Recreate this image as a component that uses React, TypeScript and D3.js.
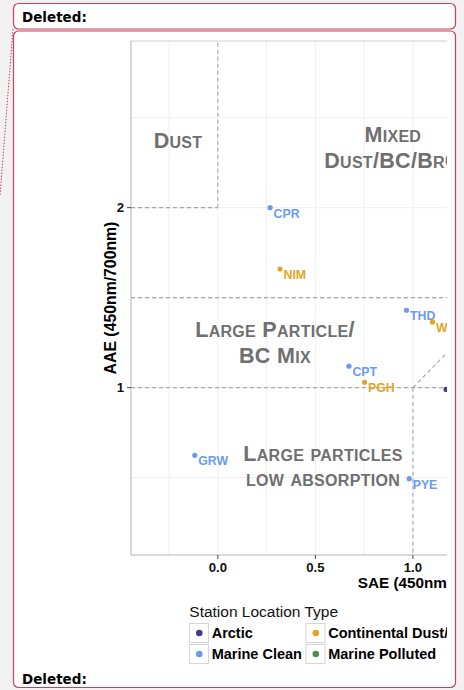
import React from "react";
import * as d3 from "d3";

// ---- data ----
const stations = ["CPR", "NIM", "THD", "WLG", "CPT", "PGH", "BRW", "GRW", "PYE"];
const saeValues = [0.268, 0.319, 0.967, 1.1, 0.672, 0.752, 1.17, -0.118, 0.981];
const aaeValues = [2.0, 1.659, 1.43, 1.365, 1.119, 1.03, 0.99, 0.624, 0.494];
const stationTypes = [
  "Marine Clean", "Continental Dust/Urban", "Marine Clean", "Continental Dust/Urban",
  "Marine Clean", "Continental Dust/Urban", "Arctic", "Marine Clean", "Marine Clean",
];
const legendCategories = ["Arctic", "Continental Dust/Urban", "Marine Clean", "Marine Polluted"];
const categoryColors = ["#433a8c", "#e0a526", "#6a9bef", "#4e8d58"];
const xTicks = [0, 0.5, 1];
const xTickLabels = ["0.0", "0.5", "1.0"];
const yTicks = [1, 2];
const yTickLabels = ["1", "2"];
const xGrid = [-0.25, 0, 0.25, 0.5, 0.75, 1, 1.25, 1.5];
const yGrid = [0.5, 1, 1.5, 2, 2.5];
// reference segments [x1, y1, x2, y2] in data units (null = panel edge)
const refSegments: (number | null)[][] = [
  [0, 2, 0, null],
  [null, 2, 0, 2],
  [null, 1.5, null, 1.5],
  [null, 1, null, 1],
  [1, 1, 1, null],
  [1, 1, 1.5, 1.555],
];
const regionLines = ["Dust", "Mixed", "Dust/BC/BrC", "Large Particle/", "BC Mix", "Large particles", "low absorption"];
const regionX = [-0.204, 0.897, 0.895, 0.293, 0.293, 0.539, 0.539];
const regionY = [2.33, 2.363, 2.222, 1.279, 1.139, 0.592, 0.455];

const W = 464, H = 690;
const xScale = d3.scaleLinear().domain([-0.445, 1.6]).range([131, 530]);
const yScale = d3.scaleLinear().domain([0.07, 2.926]).range([555, 41]);
const color = d3.scaleOrdinal<string, string>().domain(legendCategories).range(categoryColors);

const FONT = "'Liberation Sans', Arial, sans-serif";
const CLIP_R = 447;

function smallCaps(text: string, big: number, small: number) {
  const parts: { s: string; size: number }[] = [];
  for (const ch of text) {
    const isLower = ch !== ch.toUpperCase();
    const size = isLower ? small : big;
    const c = ch.toUpperCase();
    if (parts.length && parts[parts.length - 1].size === size) parts[parts.length - 1].s += c;
    else parts.push({ s: c, size });
  }
  return parts.map((p, i) => (
    <tspan key={i} fontSize={p.size}>{p.s}</tspan>
  ));
}

export default function App() {
  const [x0, x1] = xScale.domain();
  const [y0, y1] = yScale.domain();
  const panelL = xScale(x0), panelR = xScale(x1), panelT = yScale(y1), panelB = yScale(y0);
  const crimson = "#cc3f5e";

  return (
    <svg width={W} height={H} style={{ position: "absolute", left: 0, top: 0 }} fontFamily={FONT}>
      <defs>
        <clipPath id="chartClip">
          <rect x={0} y={0} width={CLIP_R} height={H} />
        </clipPath>
      </defs>
      <rect x={0} y={0} width={W} height={H} fill="#f1f1f1" />
      {/* balloons */}
      <rect x={13.5} y={3.5} width={442} height={25.5} rx={5} fill="#fff" stroke={crimson} strokeWidth={1.2} />
      <text x={22} y={21.5} fontFamily="'DejaVu Sans', Verdana, sans-serif" fontWeight="bold" fontSize={13.5} fill="#000">Deleted:</text>
      <rect x={13.5} y={31} width={442} height={656.5} rx={5} fill="#fff" stroke={crimson} strokeWidth={1.2} />
      <text x={22} y={684} fontFamily="'DejaVu Sans', Verdana, sans-serif" fontWeight="bold" fontSize={13.5} fill="#000">Deleted:</text>
      <line x1={13} y1={29} x2={0} y2={196} stroke={crimson} strokeWidth={1} strokeDasharray="1.5,1.5" />

      <g clipPath="url(#chartClip)">
        {/* panel */}
        <rect x={panelL} y={panelT} width={panelR - panelL} height={panelB - panelT} fill="#fff" />
        {xGrid.map((g, i) => (
          <line key={"gx" + i} x1={xScale(g)} x2={xScale(g)} y1={panelT} y2={panelB} stroke="#efefef" strokeWidth={1} />
        ))}
        {yGrid.map((g, i) => (
          <line key={"gy" + i} x1={panelL} x2={panelR} y1={yScale(g)} y2={yScale(g)} stroke="#efefef" strokeWidth={1} />
        ))}
        <line x1={panelL} x2={panelR} y1={panelT} y2={panelT} stroke="#d0d0d0" strokeWidth={1} />
        <line x1={panelL} x2={panelL} y1={panelT} y2={panelB} stroke="#b3b3b3" strokeWidth={1} />
        <line x1={panelL} x2={panelR} y1={panelB} y2={panelB} stroke="#b3b3b3" strokeWidth={1} />

        {/* reference lines */}
        {refSegments.map((s, i) => {
          const ax = s[0] === null ? panelL : xScale(s[0]);
          const ay = s[1] === null ? panelT : yScale(s[1]);
          const bx = s[2] === null ? panelR : xScale(s[2]);
          const by = s[3] === null ? (s[1] !== null && s[0] !== null && s[0] === s[2] && (s[1] as number) < 2 ? panelB : panelT) : yScale(s[3]);
          return <line key={"r" + i} x1={ax} y1={ay} x2={bx} y2={by} stroke="#a8a8a8" strokeWidth={1.1} strokeDasharray="4,3" />;
        })}

        {/* region labels */}
        {regionLines.map((t, i) => (
          <text key={"rl" + i} x={xScale(regionX[i])} y={yScale(regionY[i])} textAnchor="middle" fontWeight="bold" fill="#6f6f6f" letterSpacing={0.3}>
            {smallCaps(t, 21.5, 16)}
          </text>
        ))}

        {/* points */}
        {stations.map((s, i) => (
          <g key={s}>
            <circle cx={xScale(saeValues[i])} cy={yScale(aaeValues[i])} r={2.6} fill={color(stationTypes[i])} />
            <text x={xScale(saeValues[i]) + 3.5} y={yScale(aaeValues[i]) + 10} fontSize={12.3} fontWeight="bold" fill={color(stationTypes[i])}>{s}</text>
          </g>
        ))}

        {/* ticks */}
        {xTicks.map((t, i) => (
          <g key={"xt" + i}>
            <line x1={xScale(t)} x2={xScale(t)} y1={panelB} y2={panelB + 4} stroke="#444" />
            <text x={xScale(t)} y={571.7} textAnchor="middle" fontWeight="bold" fontSize={13.2} fill="#111">{xTickLabels[i]}</text>
          </g>
        ))}
        {yTicks.map((t, i) => (
          <g key={"yt" + i}>
            <line x1={panelL - 4} x2={panelL} y1={yScale(t)} y2={yScale(t)} stroke="#444" />
            <text x={124} y={yScale(t) + 4.7} textAnchor="end" fontWeight="bold" fontSize={13.2} fill="#111">{yTickLabels[i]}</text>
          </g>
        ))}
        <text x={357.7} y={588.3} fontWeight="bold" fontSize={15.3} fill="#000">SAE (450nm/700nm)</text>
        <text transform={`translate(115.5, ${(panelT + panelB) / 2}) rotate(-90)`} textAnchor="middle" fontWeight="bold" fontSize={15.8} fill="#000">AAE (450nm/700nm)</text>

        {/* legend */}
        <text x={189.3} y={617} fontSize={15.5} fill="#111">Station Location Type</text>
        {legendCategories.map((c, i) => {
          const col = i % 2, row = Math.floor(i / 2);
          const bx = 189 + col * 116.5, by = 623 + row * 21;
          return (
            <g key={c}>
              <rect x={bx + 0.5} y={by + 0.5} width={19} height={19} fill="#fff" stroke="#d6d6d6" strokeWidth={1} />
              <circle cx={bx + 10.3} cy={by + 10} r={3.3} fill={color(c)} />
              <text x={bx + 22.7} y={by + 14.5} fontWeight="bold" fontSize={14.5} fill="#000">{c}</text>
            </g>
          );
        })}
      </g>
    </svg>
  );
}
